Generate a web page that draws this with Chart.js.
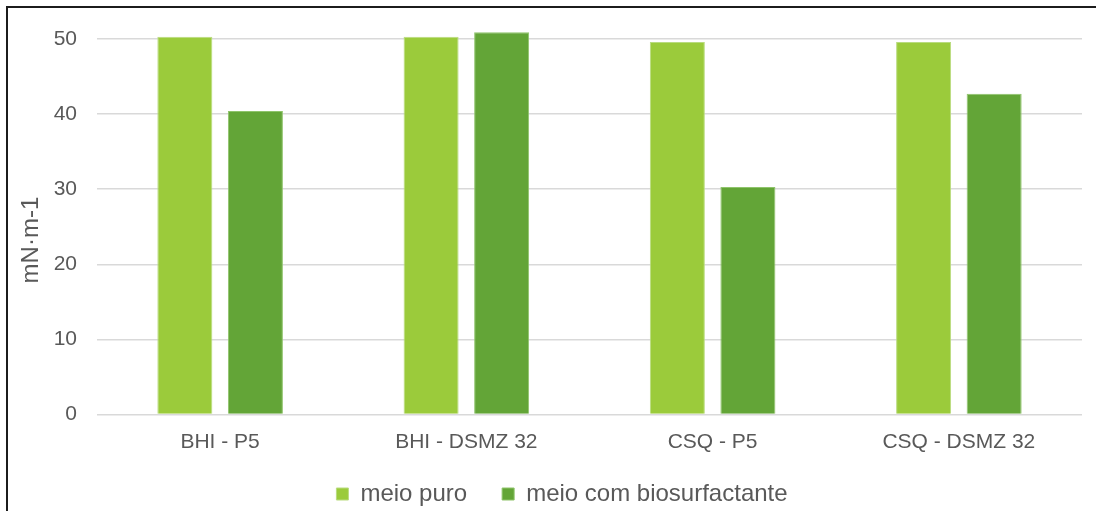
<!DOCTYPE html>
<html>
<head>
<meta charset="utf-8">
<script src="https://cdn.jsdelivr.net/npm/chart.js@4/dist/chart.umd.min.js"></script>
<style>
  html, body { margin: 0; padding: 0; background: #fff; }
  #wrap { position: relative; width: 1096px; height: 511px; overflow: hidden; }
  #frame {
    position: absolute; left: 6px; top: 6px; width: 1100px; height: 520px;
    border-top: 2px solid #1c1c1c; border-left: 2px solid #1c1c1c;
    box-sizing: border-box; pointer-events: none;
  }
  canvas { position: absolute; left: 0; top: 0; }
</style>
</head>
<body>
<div id="wrap">
  <canvas id="chart" width="1096" height="511"></canvas>
  <div id="frame"></div>
</div>
<script>
// Surface tension per medium / strain
const categories = ['BHI - P5', 'BHI - DSMZ 32', 'CSQ - P5', 'CSQ - DSMZ 32'];
const meioPuro = [50.3, 50.3, 49.6, 49.6];
const meioComBiosurfactante = [40.4, 50.9, 30.3, 42.7];
const seriesNames = ['meio puro', 'meio com biosurfactante'];
const yTicks = [0, 10, 20, 30, 40, 50];
const yTitle = 'mN\u00b7m-1';

const FONT = "'Liberation Sans', Arial, sans-serif";
const TEXT = '#595959';

new Chart(document.getElementById('chart'), {
  type: 'bar',
  data: {
    labels: categories,
    datasets: [
      {
        label: seriesNames[0],
        data: meioPuro,
        backgroundColor: '#9bcb3b',
        borderColor: '#b9dc7f',
        borderWidth: 1,
        clip: false
      },
      {
        label: seriesNames[1],
        data: meioComBiosurfactante,
        backgroundColor: '#63a537',
        borderColor: '#8fc46b',
        borderWidth: 1,
        clip: false
      }
    ]
  },
  options: {
    responsive: false,
    animation: false,
    devicePixelRatio: 1,
    categoryPercentage: 0.573,
    barPercentage: 0.78,
    layout: { padding: { left: 42, right: 14, top: 39, bottom: -5 } },
    plugins: {
      tooltip: { enabled: false },
      legend: {
        position: 'bottom',
        // empty title used only to pull the legend row up a little
        title: {
          display: true,
          text: '',
          font: { family: FONT, size: 10, lineHeight: 1 },
          padding: { top: -18.5, bottom: 0 }
        },
        labels: {
          boxWidth: 12,
          boxHeight: 12,
          padding: 35,
          color: TEXT,
          font: { family: FONT, size: 24 }
        }
      }
    },
    scales: {
      x: {
        grid: { display: false, drawTicks: false },
        border: { display: false },
        ticks: { color: TEXT, padding: 15, font: { family: FONT, size: 21 } },
        afterFit: (s) => { s.height = 41; }
      },
      y: {
        min: yTicks[0],
        max: yTicks[yTicks.length - 1],
        afterBuildTicks: (s) => { s.ticks = yTicks.map(v => ({ value: v })); },
        grid: { color: '#d9d9d9', lineWidth: 1.5, drawTicks: false },
        border: { display: false },
        ticks: { color: TEXT, padding: 20, font: { family: FONT, size: 21 } },
        title: {
          display: true,
          text: yTitle + '    ',
          color: TEXT,
          font: { family: FONT, size: 24 },
          padding: { top: -25, bottom: 0 }
        },
        afterFit: (s) => { s.width = 55; }
      }
    }
  }
});
</script>
</body>
</html>
